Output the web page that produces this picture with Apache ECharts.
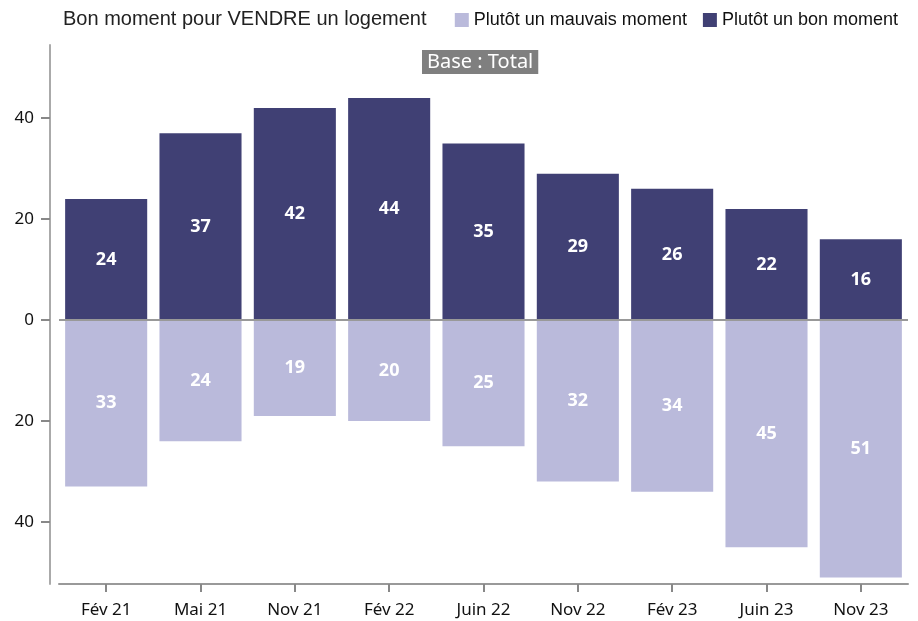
<!DOCTYPE html>
<html>
<head>
<meta charset="utf-8">
<script src="https://cdn.jsdelivr.net/npm/echarts@6/dist/echarts.min.js"></script>
<style>
  html, body { margin: 0; padding: 0; background: #fff; }
  #main { width: 918px; height: 621px; }
</style>
</head>
<body>
<div id="main"></div>
<script>
var categories = ['Fév 21', 'Mai 21', 'Nov 21', 'Fév 22', 'Juin 22', 'Nov 22', 'Fév 23', 'Juin 23', 'Nov 23'];
var bonMoment = [24, 37, 42, 44, 35, 29, 26, 22, 16];
var mauvaisMoment = [33, 24, 19, 20, 25, 32, 34, 45, 51];
var yTicks = [-40, -20, 0, 20, 40];

var chart = echarts.init(document.getElementById('main'));

var option = {
  animation: false,
  title: [
    {
      text: 'Bon moment pour VENDRE un logement',
      left: 58,
      top: 4,
      textStyle: { fontFamily: 'Liberation Sans', fontSize: 20, fontWeight: 'normal', color: '#222' }
    },
    {
      text: 'Base : Total',
      left: 422,
      top: 50,
      padding: [2, 5, 2, 5],
      backgroundColor: '#7f7f7f',
      textStyle: { fontFamily: 'Noto Sans', fontSize: 20, fontWeight: 'normal', color: '#fff' }
    }
  ],
  legend: {
    right: 15,
    top: 6,
    itemWidth: 14,
    itemHeight: 14,
    itemGap: 16,
    icon: 'rect',
    data: ['Plutôt un mauvais moment', 'Plutôt un bon moment'],
    textStyle: { fontFamily: 'Liberation Sans', fontSize: 18, color: '#111' }
  },
  grid: { left: 59, right: 10, top: 45, bottom: 37 },
  xAxis: {
    type: 'category',
    data: categories,
    axisLine: { show: true, onZero: false, lineStyle: { color: '#999', width: 2 } },
    axisTick: { show: true, interval: 0, alignWithLabel: true, length: 8, lineStyle: { color: '#888', width: 2 } },
    axisLabel: { fontFamily: 'Noto Sans', fontSize: 17, color: '#111', margin: 18 }
  },
  yAxis: {
    type: 'value',
    min: -52.3,
    max: 54.5,
    offset: 9,
    axisLine: { show: true, lineStyle: { color: '#aaa', width: 2 } },
    axisTick: { show: true, length: 9, customValues: yTicks, lineStyle: { color: '#888', width: 2 } },
    splitLine: { show: false },
    axisLabel: {
      customValues: yTicks,
      fontFamily: 'Noto Sans',
      fontSize: 17,
      color: '#111',
      margin: 16,
      formatter: function (v) { return String(Math.abs(v)); }
    }
  },
  series: [
    {
      name: 'Plutôt un mauvais moment',
      type: 'bar',
      stack: 'total',
      barCategoryGap: '13%',
      data: mauvaisMoment.map(function (v) { return -v; }),
      itemStyle: { color: '#babadb' },
      label: {
        show: true,
        position: 'inside',
        fontFamily: 'Noto Sans',
        fontSize: 18,
        fontWeight: 'bold',
        color: '#fff',
        formatter: function (p) { return Math.abs(p.value); }
      },
      markLine: {
        silent: true,
        symbol: 'none',
        label: { show: false },
        lineStyle: { color: '#999', width: 2, type: 'solid' },
        data: [{ yAxis: 0 }]
      }
    },
    {
      name: 'Plutôt un bon moment',
      type: 'bar',
      stack: 'total',
      barCategoryGap: '13%',
      data: bonMoment,
      itemStyle: { color: '#404074' },
      label: {
        show: true,
        position: 'inside',
        fontFamily: 'Noto Sans',
        fontSize: 18,
        fontWeight: 'bold',
        color: '#fff'
      }
    }
  ]
};

chart.setOption(option);
</script>
</body>
</html>
